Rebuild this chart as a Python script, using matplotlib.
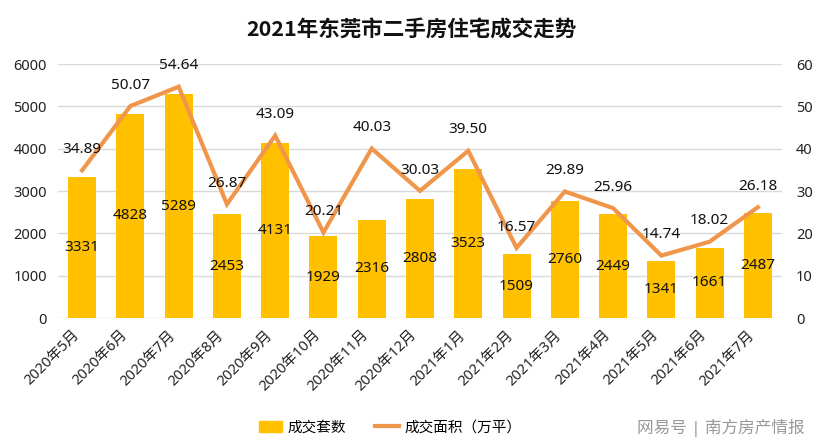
import matplotlib
matplotlib.use("Agg")
import matplotlib.pyplot as plt
from matplotlib.patches import Patch
from matplotlib.lines import Line2D

plt.rcParams['font.family'] = ['Noto Sans', 'Noto Sans CJK SC', 'DejaVu Sans']

months = ["2020年5月", "2020年6月", "2020年7月", "2020年8月", "2020年9月", "2020年10月",
          "2020年11月", "2020年12月", "2021年1月", "2021年2月", "2021年3月", "2021年4月",
          "2021年5月", "2021年6月", "2021年7月"]
units = [3331, 4828, 5289, 2453, 4131, 1929, 2316, 2808, 3523, 1509, 2760, 2449, 1341, 1661, 2487]
area = [34.89, 50.07, 54.64, 26.87, 43.09, 20.21, 40.03, 30.03, 39.50, 16.57, 29.89, 25.96, 14.74, 18.02, 26.18]

bar_color = "#FFC000"
line_color = "#F0964B"

fig = plt.figure(figsize=(8.22, 4.48), dpi=100)
ax = fig.add_axes([58/822, 1-318/448, (782-58)/822, (318-64)/448])
ax2 = ax.twinx()

x = list(range(len(months)))
ax.bar(x, units, width=0.58, color=bar_color, zorder=2)
for xi, v in zip(x, units):
    ax.text(xi, v/2, str(v), ha='center', va='center', fontsize=11, color='#111111', zorder=5)

ax.set_ylim(0, 6000)
ax.set_yticks(range(0, 6001, 1000))
ax.set_xlim(-0.5, len(months)-0.5)
ax.set_xticks(x)
ax.set_xticklabels(months, rotation=45, ha='right', rotation_mode='default', fontsize=10.5, color='#222222')
ax.grid(axis='y', color='#D9D9D9', linewidth=1, zorder=0)
ax.set_axisbelow(True)
ax.tick_params(axis='both', length=0, labelsize=10.5, colors='#222222')
ax.tick_params(axis='y', pad=8)
ax.tick_params(axis='x', pad=7)
for s in ax.spines.values():
    s.set_visible(False)

ax2.plot(x, area, color=line_color, linewidth=3, solid_joinstyle='miter', zorder=3)
for xi, v in zip(x, area):
    ax2.annotate(f"{v:.2f}", (xi, v), xytext=(0, 15), textcoords='offset points',
                 ha='center', va='center', fontsize=11, color='#111111')
ax2.set_ylim(0, 60)
ax2.set_yticks(range(0, 61, 10))
ax2.tick_params(axis='y', length=0, labelsize=10.5, colors='#222222', pad=10)
for s in ax2.spines.values():
    s.set_visible(False)

fig.text(411/822, 1-30/448, "2021年东莞市二手房住宅成交走势", ha='center', va='center',
         fontsize=15.5, fontweight='bold', color='#111111',
         family=['Noto Sans CJK SC', 'DejaVu Sans'])

handles = [Patch(color=bar_color, label="成交套数"),
           Line2D([0], [0], color=line_color, linewidth=3, label="成交面积（万平）")]
fig.legend(handles=handles, loc='center', bbox_to_anchor=(390/822, 1-428/448), ncol=2,
           frameon=False, fontsize=10.5, handlelength=1.6, columnspacing=2.0, handletextpad=0.4)

fig.text(805/822, 1-428/448, "网易号 | 南方房产情报", ha='right', va='center',
         fontsize=12, color='#999999')

fig.savefig("out.png", dpi=100)
